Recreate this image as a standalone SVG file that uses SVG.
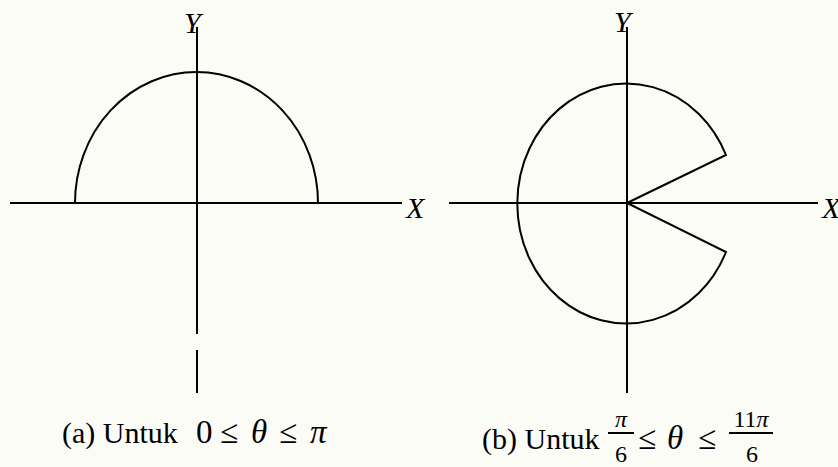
<svg xmlns="http://www.w3.org/2000/svg" width="838" height="467" viewBox="0 0 838 467">
<style>
.ax{stroke:#000;stroke-width:2;fill:none}
.cv{stroke:#000;stroke-width:2;fill:none;stroke-linejoin:miter}
.lbl{font-family:"Liberation Serif","Times New Roman",serif;font-style:italic;font-size:30px;fill:#000}
.cap{font-family:"Liberation Serif","Times New Roman",serif;font-size:30px;fill:#000}
.m{font-size:33px}
.it{font-style:italic}
.fr{font-family:"Liberation Serif","Times New Roman",serif;font-size:24px;fill:#000;text-anchor:middle}
</style>
<rect width="838" height="467" fill="#fcfcf7"/>
<g id="plot-a">
<line class="ax" x1="10" y1="203" x2="402" y2="203"/>
<line class="ax" x1="197" y1="27" x2="197" y2="334"/>
<line class="ax" x1="197" y1="350" x2="197" y2="393"/>
<path class="cv" d="M75 203 A121.5 131 0 0 1 318 203"/>
<text class="lbl" x="184" y="33">Y</text>
<text class="lbl" x="406" y="218">X</text>
</g>
<g id="plot-b">
<line class="ax" x1="449" y1="203" x2="818" y2="203"/>
<line class="ax" x1="627" y1="27" x2="627" y2="393"/>
<path class="cv" d="M627 203 L726 155 A109 120 0 1 0 726 252 Z"/>
<text class="lbl" x="614" y="32">Y</text>
<text class="lbl" x="822" y="218">X</text>
</g>
<g id="caption-a">
<text class="cap" y="443"><tspan x="62">(a) Untuk</tspan><tspan x="196" class="m">0</tspan><tspan x="220" class="m">≤</tspan><tspan x="251" class="it m">θ</tspan><tspan x="279" class="m">≤</tspan><tspan x="310" class="it m">π</tspan></text>
</g>
<g id="caption-b">
<text class="cap" y="449"><tspan x="482">(b) Untuk</tspan><tspan x="638" class="m">≤</tspan><tspan x="667" class="it m">θ</tspan><tspan x="698" class="m">≤</tspan></text>
<text class="fr it" x="621" y="427">π</text>
<line class="ax" x1="608" y1="433" x2="634" y2="433"/>
<text class="fr" x="621" y="462">6</text>
<text class="fr" x="751" y="427">11<tspan class="it">π</tspan></text>
<line class="ax" x1="729" y1="433" x2="773" y2="433"/>
<text class="fr" x="752" y="462">6</text>
</g>
</svg>
